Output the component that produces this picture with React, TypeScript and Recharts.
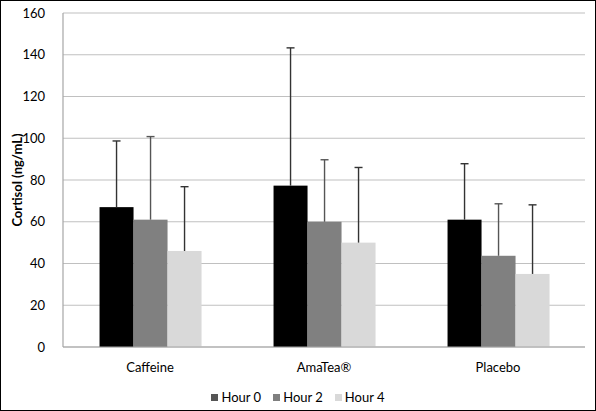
import React from 'react';
import { BarChart, Bar, XAxis, YAxis, CartesianGrid, Legend } from 'recharts';

const categories = ['Caffeine', 'AmaTea®', 'Placebo'];
const hour0 = [67, 77.3, 61];
const hour2 = [61, 60, 43.7];
const hour4 = [46, 50, 35];
const hour0Sd = [31.7, 66, 26.8];
const hour2Sd = [39.8, 29.7, 24.9];
const hour4Sd = [30.8, 36, 33.1];
const yTicks = [0, 20, 40, 60, 80, 100, 120, 140, 160];

const seriesNames = ['Hour 0', 'Hour 2', 'Hour 4'];
const barColors = ['#000000', '#808080', '#d9d9d9'];
const legendColors = ['#555555', '#7f7f7f', '#d9d9d9'];

const data = categories.map((c, i) => ({
  name: c,
  h0: hour0[i],
  h2: hour2[i],
  h4: hour4[i],
  e0: hour0Sd[i],
  e2: hour2Sd[i],
  e4: hour4Sd[i],
}));

const FONT = 'Lato, "Open Sans", sans-serif';

const makeShape = (sdKey: string, stroke: string) => (props: any) => {
  const { x, y, width, height, value, payload, fill } = props;
  const v = Array.isArray(value) ? value[1] - value[0] : value;
  const pxPerUnit = v ? height / v : 0;
  const sd = payload[sdKey];
  const cx = x + width / 2;
  const top = y - sd * pxPerUnit;
  return (
    <g>
      <rect x={x} y={y} width={width} height={height} fill={fill} />
      <line x1={cx} x2={cx} y1={y} y2={top} stroke={stroke} strokeWidth={1.4} />
      <line x1={cx - 4} x2={cx + 4} y1={top} y2={top} stroke={stroke} strokeWidth={1.4} />
    </g>
  );
};

const YLabel = (props: any) => {
  const vb = props.viewBox || {};
  const cy = (vb.y || 0) + (vb.height || 0) / 2;
  const lx = 17;
  return (
    <text
      x={lx}
      y={cy}
      transform={`rotate(-90, ${lx}, ${cy})`}
      textAnchor="middle"
      dominantBaseline="central"
      fontFamily={FONT}
      fontSize={13}
      fontWeight="bold"
      fill="#000"
    >
      Cortisol (ng/mL)
    </text>
  );
};

const renderLegend = () => (
  <div style={{ display: 'flex', justifyContent: 'center', fontFamily: FONT, fontSize: 13, color: '#000' }}>
    {seriesNames.map((n, i) => (
      <div key={n} style={{ display: 'flex', alignItems: 'center', marginRight: i < 2 ? 12 : 0 }}>
        <span style={{ display: 'inline-block', width: 7, height: 7, background: legendColors[i], marginRight: 3 }} />
        <span>{n}</span>
      </div>
    ))}
  </div>
);

export default function App() {
  return (
    <div style={{ position: 'absolute', left: 0, top: 0, width: 596, height: 411, border: '1px solid #000', boxSizing: 'border-box', background: '#fff' }}>
      <div style={{ position: 'absolute', left: -1, top: -1 }}>
        <BarChart
          width={596}
          height={411}
          data={data}
          margin={{ top: 13, right: 11, left: 0, bottom: 18 }}
          barCategoryGap="21%"
          barGap={0}
        >
          <CartesianGrid vertical={false} stroke="#c0c0c0" strokeWidth={1.2} />
          <XAxis
            dataKey="name"
            tickLine={false}
            axisLine={{ stroke: '#a6a6a6', strokeWidth: 1.2 }}
            tick={{ fill: '#000', fontSize: 13, fontFamily: FONT }}
            tickMargin={10}
            height={30}
          />
          <YAxis
            domain={[0, 160]}
            ticks={yTicks}
            width={63}
            tickLine={false}
            axisLine={{ stroke: '#a6a6a6', strokeWidth: 1.2 }}
            tick={{ fill: '#000', fontSize: 13, fontFamily: FONT }}
            tickMargin={12}
            label={{ content: YLabel }}
          />
          <Legend
            verticalAlign="bottom"
            content={renderLegend}
            wrapperStyle={{ bottom: 6, left: 0, width: 596 }}
          />
          <Bar dataKey="h0" name={seriesNames[0]} fill={barColors[0]} isAnimationActive={false} shape={makeShape('e0', '#333')} />
          <Bar dataKey="h2" name={seriesNames[1]} fill={barColors[1]} isAnimationActive={false} shape={makeShape('e2', '#555')} />
          <Bar dataKey="h4" name={seriesNames[2]} fill={barColors[2]} isAnimationActive={false} shape={makeShape('e4', '#333')} />
        </BarChart>
      </div>
    </div>
  );
}
